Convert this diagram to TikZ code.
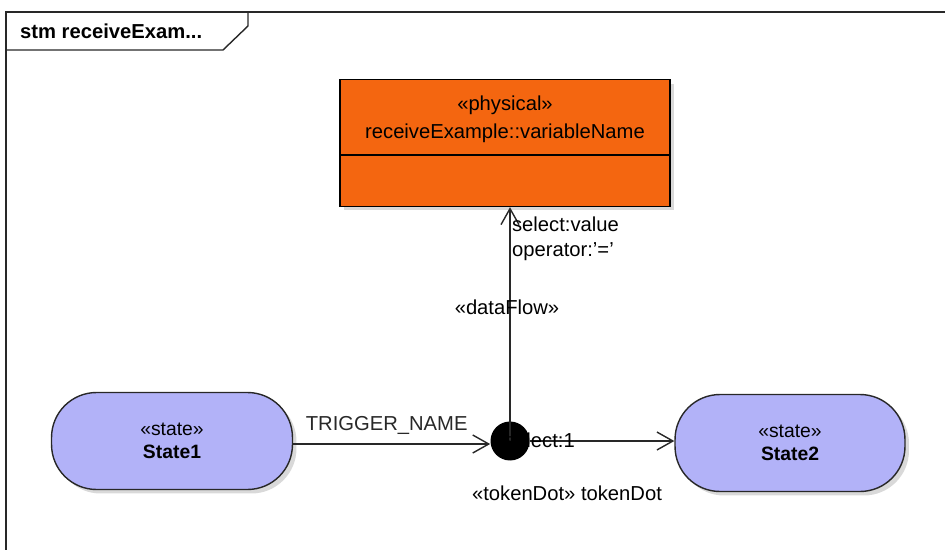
\documentclass[tikz,border=0pt]{standalone}
\usepackage{fontspec}
\setmainfont{Liberation Sans}
\usetikzlibrary{arrows.meta,shadows,positioning}
\definecolor{umlorange}{RGB}{244,102,16}
\definecolor{umlstate}{RGB}{178,178,248}
\definecolor{umlline}{RGB}{40,40,40}
\tikzstyle{flow} = [thick, color=umlline, -{Straight Barb[length=0.32cm, width=0.36cm]}]
\tikzstyle{statebox} = [rectangle, rounded corners=0.9cm, minimum height=1.94cm, align=center, draw=umlline, fill=umlstate, thick, drop shadow={opacity=0.3, shadow xshift=0.08cm, shadow yshift=-0.08cm}, font=\fontsize{11}{13}\selectfont]
\tikzstyle{classbox} = [rectangle, minimum width=6.6cm, minimum height=2.54cm, draw=black, fill=umlorange, thick, drop shadow={opacity=0.3, shadow xshift=0.08cm, shadow yshift=-0.08cm}]
\tikzstyle{lbl} = [font=\fontsize{11.5}{14}\selectfont, inner sep=1pt]

\begin{document}
\begin{tikzpicture}[x=0.02cm, y=-0.02cm]
\useasboundingbox (0,0) rectangle (945,550);
% diagram frame
\draw[thick, umlline] (6,550) -- (6,12) -- (945,12);
\draw[thick, umlline] (6,50) -- (223,50) -- (248,26) -- (248,12);
\node[anchor=west, font=\fontsize{11.5}{13}\selectfont\bfseries] (title) at (14,31) {stm receiveExam...};

% variable
\node[classbox] (var) at (505,143) {};
\draw[thick] (340,155) -- (670,155);
\node[lbl, align=center, font=\fontsize{11.5}{16}\selectfont] (varname) at (505,119) {«physical»\\receiveExample::variableName};

% states
\node[statebox, minimum width=4.82cm] (s1) at (172,441) {«state»\\\textbf{State1}};
\node[statebox, minimum width=4.6cm] (s2) at (790,443) {«state»\\\textbf{State2}};

% token dot
\node[circle, fill=black, minimum size=0.78cm, inner sep=0pt] (dot) at (510,441) {};

% flows
\draw[flow] (s1.east |- 0,444) -- (dot.west |- 0,444) node[lbl, midway, above=4pt, xshift=-0.1cm] (trig) {TRIGGER\_NAME};
\draw[flow] (dot.east |- 0,441) -- (s2.west |- 0,441);
\draw[flow] (dot.center) -- (var.south -| dot.center);

% labels
\node[lbl, anchor=west] (sel) at (503,440) {select:1};
\node[lbl, anchor=north west, align=left] (selv) at (510,215) {select:value\\operator:'='};
\node[lbl] (df) at (507,307) {«dataFlow»};
\node[lbl, below=0.45cm of dot, xshift=1.14cm] (tok) {«tokenDot» tokenDot};
\end{tikzpicture}
\end{document}
